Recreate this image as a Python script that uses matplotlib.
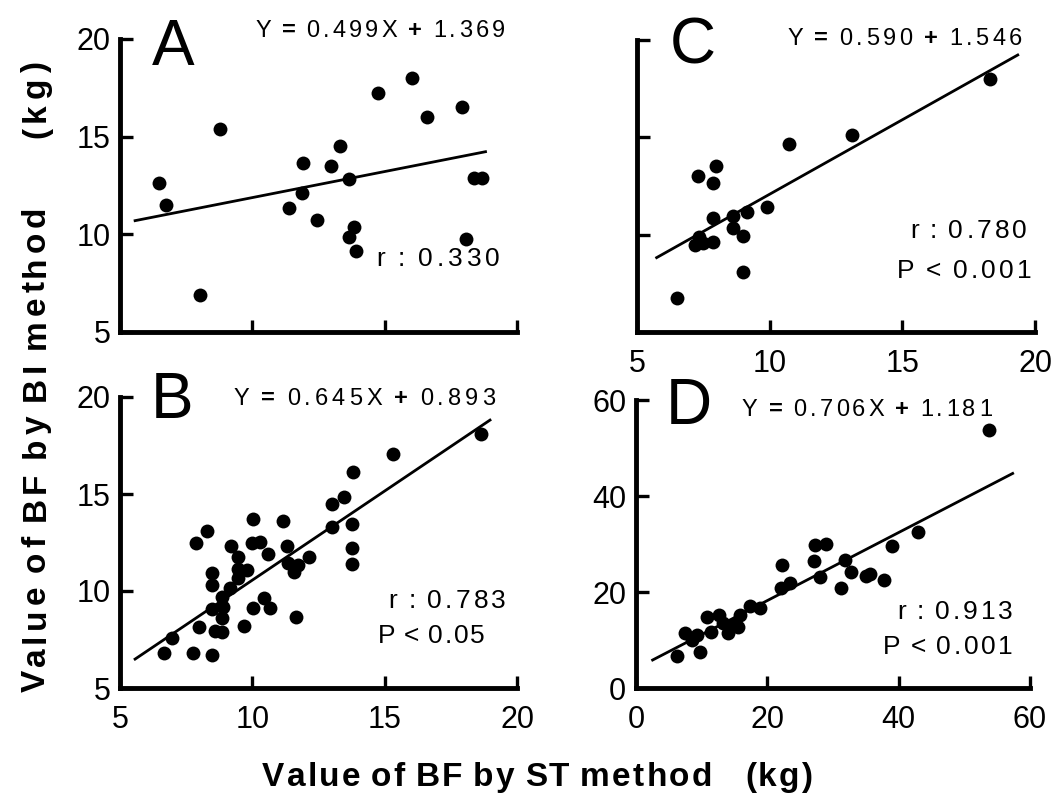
import numpy as np
import matplotlib
matplotlib.use("Agg")
import matplotlib.pyplot as plt

plt.rcParams['font.family'] = ['Liberation Sans', 'DejaVu Sans']

# panel A
a_x = [6.49, 6.72, 8.78, 8.02, 11.38, 11.86, 11.90, 12.46, 12.96, 13.31, 13.66,
       13.85, 13.66, 13.90, 14.76, 16.05, 16.59, 17.93, 18.06, 18.37, 18.66]
a_y = [12.61, 11.50, 15.39, 6.89, 11.36, 12.10, 13.63, 10.73, 13.50, 14.54, 12.82,
       10.39, 9.84, 9.16, 17.25, 18.02, 15.99, 16.53, 9.76, 12.87, 12.87]
a_line_x = [5.57, 18.81]
a_line_y = [10.70, 14.23]

# panel B
b_x = [6.68, 6.95, 7.75, 8.48, 7.98, 7.87, 8.27, 8.49, 8.49, 8.46, 8.59, 8.87,
       8.87, 8.90, 8.84, 9.16, 9.19, 9.45, 9.45, 9.47, 9.79, 9.69, 10.04, 9.97,
       10.29, 10.60, 10.04, 10.44, 10.67, 11.17, 11.30, 11.36, 11.57, 11.74, 11.65,
       12.15, 13.02, 13.02, 13.46, 13.82, 13.78, 13.75, 13.75, 15.30, 18.64]
b_y = [6.82, 7.56, 6.82, 6.70, 8.13, 12.46, 13.09, 10.91, 10.31, 9.06, 7.96, 7.90,
       8.62, 9.19, 9.71, 10.14, 12.32, 11.77, 11.12, 10.65, 11.08, 8.20, 13.69, 12.49,
       12.54, 11.91, 9.11, 9.62, 9.11, 13.61, 12.34, 11.43, 11.00, 11.34, 8.64,
       11.74, 14.47, 13.32, 14.83, 16.15, 13.45, 12.20, 11.37, 17.04, 18.08]
b_line_x = [5.57, 18.98]
b_line_y = [6.49, 18.81]

# panel C
c_x = [6.50, 7.31, 7.97, 7.88, 7.88, 7.19, 7.35, 7.50, 7.88, 8.63, 8.61, 8.98,
       9.16, 9.01, 9.91, 10.72, 13.10, 18.32]
c_y = [6.76, 13.03, 13.54, 12.64, 10.84, 9.47, 9.87, 9.59, 9.64, 10.96, 10.33, 9.95,
       11.18, 8.10, 11.44, 14.66, 15.12, 18.00]
c_line_x = [5.74, 19.35]
c_line_y = [8.82, 19.23]

# panel D
d_x = [6.28, 7.45, 8.46, 9.22, 9.73, 10.74, 11.35, 12.66, 13.27, 14.03, 14.79,
       15.55, 15.81, 17.33, 18.84, 22.14, 22.29, 23.40, 27.10, 27.20, 28.98, 28.07,
       31.26, 31.76, 32.78, 35.06, 35.67, 37.84, 39.01, 42.90, 53.80]
d_y = [6.67, 11.4, 10.0, 11.04, 7.57, 14.7, 11.7, 15.2, 13.5, 11.4, 13.1, 12.8,
       15.2, 17.1, 16.6, 20.9, 25.6, 21.8, 26.5, 29.8, 30.1, 23.1, 20.8, 26.7, 24.2,
       23.3, 23.7, 22.5, 29.6, 32.4, 53.75]
d_line_x = [2.53, 57.36]
d_line_y = [5.83, 44.7]

W, H = 1056, 796
fig = plt.figure(figsize=(W / 100, H / 100), dpi=100)
renderer = fig.canvas.get_renderer()


def box(l, t, r, b):
    return [l / W, 1 - b / H, (r - l) / W, (b - t) / H]


def spread(x0, x1, base, s, size, rot=0, bold='', weight='normal'):
    # draw text char by char so it spans x0..x1 (wide tracking like the original)
    items = []
    for ch in s:
        if ch == ' ':
            items.append((None, 0.18 * size * 100 / 72))
            continue
        t = fig.text(0, 0, ch, fontsize=size, rotation=rot, rotation_mode='anchor',
                     ha='left', va='baseline',
                     weight='bold' if ch in bold else weight)
        bb = t.get_window_extent(renderer)
        items.append((t, bb.height if rot else bb.width))
    gap = (abs(x1 - x0) - sum(w for _, w in items)) / (len(items) - 1)
    pos = x0
    for t, w in items:
        if t is not None:
            if rot:
                t.set_position((base / W, 1 - pos / H))
            else:
                t.set_position((pos / W, 1 - base / H))
        pos = pos - (w + gap) if rot else pos + (w + gap)


def panel(rect, xs, ys, lx, ly, lim_x, lim_y, tx, ty, lab_x, lab_y):
    ax = fig.add_axes(rect)
    ax.scatter(xs, ys, s=100, c='black', linewidths=0, zorder=3, clip_on=False)
    ax.plot(lx, ly, color='black', lw=2.0, clip_on=False)
    ax.set_xlim(lim_x)
    ax.set_ylim(lim_y)
    ax.set_xticks(tx)
    ax.set_yticks(ty)
    ax.spines['top'].set_visible(False)
    ax.spines['right'].set_visible(False)
    ax.spines['left'].set_linewidth(3.5)
    ax.spines['bottom'].set_linewidth(3.5)
    ax.tick_params(direction='in', length=9, width=2.4, labelsize=22)
    ax.tick_params(axis='x', labelbottom=lab_x, pad=12)
    ax.tick_params(axis='y', labelleft=lab_y, pad=7)
    ax.patch.set_alpha(0)
    return ax


panel(box(120, 39, 517, 332), a_x, a_y, a_line_x, a_line_y, (5, 20), (5, 20),
      [5, 10, 15, 20], [5, 10, 15, 20], False, True)
panel(box(120, 397, 517, 688), b_x, b_y, b_line_x, b_line_y, (5, 20), (5, 20),
      [5, 10, 15, 20], [5, 10, 15, 20], True, True)
panel(box(637, 40, 1035, 332), c_x, c_y, c_line_x, c_line_y, (5, 20), (5, 20),
      [5, 10, 15, 20], [5, 10, 15, 20], True, False)
panel(box(636, 400, 1030, 688), d_x, d_y, d_line_x, d_line_y, (0, 60), (0, 60),
      [0, 20, 40, 60], [0, 20, 40, 60], True, True)

# panel letters
fig.text(152 / W, 1 - 65 / H, 'A', fontsize=46, ha='left', va='baseline')
fig.text(151 / W, 1 - 418 / H, 'B', fontsize=46, ha='left', va='baseline')
fig.text(670 / W, 1 - 64 / H, 'C', fontsize=46, ha='left', va='baseline')
fig.text(666 / W, 1 - 424 / H, 'D', fontsize=46, ha='left', va='baseline')

# equations and statistics
spread(255, 505, 37, 'Y = 0.499X + 1.369', 17, bold='=+')
spread(376, 500, 266, 'r : 0.330', 19)
spread(233, 495, 405, 'Y = 0.645X + 0.893', 17, bold='=+')
spread(388, 506, 608, 'r : 0.783', 19)
spread(378, 485, 643, 'P < 0.05', 19)
spread(787, 1022, 45, 'Y = 0.590 + 1.546', 17, bold='=+')
spread(910, 1027, 238, 'r : 0.780', 19)
spread(897, 1032, 278, 'P < 0.001', 19)
spread(742, 992, 416, 'Y = 0.706X + 1.181', 17, bold='=+')
spread(897, 1013, 619, 'r : 0.913', 19)
spread(883, 1013, 654, 'P < 0.001', 19)

# axis titles
spread(262, 712, 786, 'Value of BF by ST method', 24, weight='bold')
spread(745, 812, 786, '(kg)', 24, weight='bold')
spread(692, 207, 45, 'Value of BF by BI method', 24, rot=90, weight='bold')
spread(138, 62, 45, '(kg)', 24, rot=90, weight='bold')

fig.savefig('out.png', dpi=100)
